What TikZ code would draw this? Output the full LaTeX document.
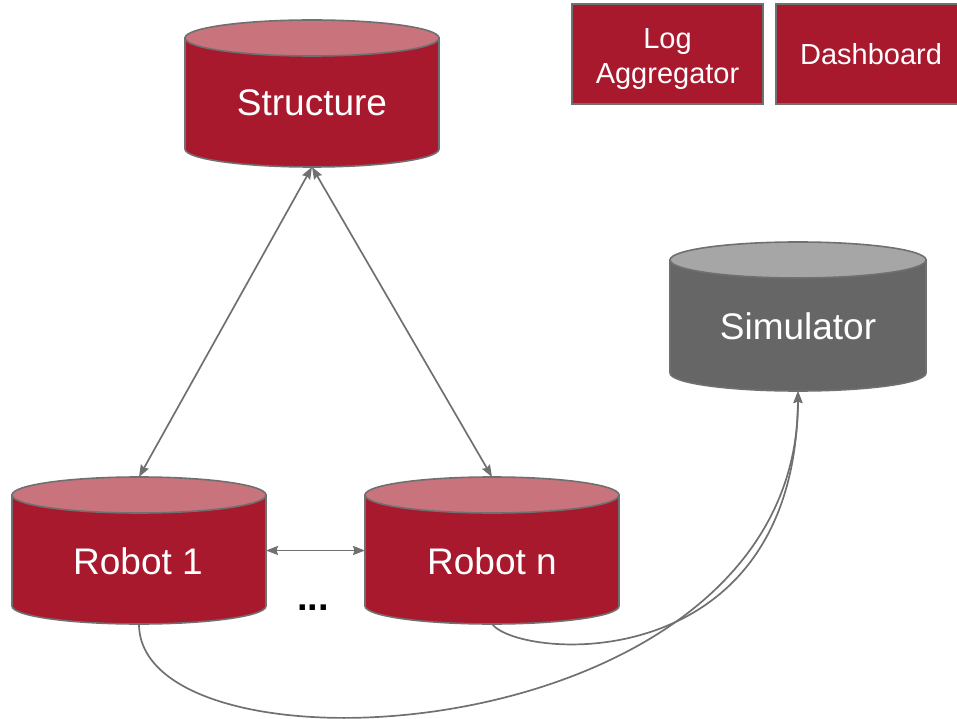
\documentclass[tikz,border=0pt]{standalone}
\usepackage{fontspec}
\setmainfont{Liberation Sans}
\usetikzlibrary{arrows.meta}
\definecolor{cred}{HTML}{A8192E}
\definecolor{credtop}{HTML}{C9737C}
\definecolor{cgray}{HTML}{666666}
\definecolor{cgraytop}{HTML}{A6A6A6}
\definecolor{lgray}{HTML}{707070}
\tikzset{
  cylnode/.style={rectangle, inner sep=0pt, outer sep=0pt, draw=none},
  cylline/.style={draw=lgray, line width=1.6pt},
  boxnode/.style={rectangle, draw=lgray, line width=1.6pt, fill=cred, inner sep=0pt, outer sep=0pt},
  bigtext/.style={text=white, font=\fontsize{37}{44}\selectfont, inner sep=0pt},
  midtext/.style={text=white, font=\fontsize{29}{35}\selectfont, inner sep=0pt, align=center},
  conn/.style={draw=lgray, line width=1.7pt},
  tip/.style={-{Stealth[length=12pt,width=9pt,inset=1.5pt]}},
  tips/.style={{Stealth[length=12pt,width=9pt,inset=1.5pt]}-{Stealth[length=12pt,width=9pt,inset=1.5pt]}}
}
% #1 name, #2 cx, #3 Y top, #4 Y bottom, #5 rx, #6 body colour, #7 top colour
\newcommand\dbcyl[7]{%
  \node[cylnode, minimum width={2*#5}, minimum height={#3-#4}] (#1) at (#2,{(#3+#4)/2}) {};
  \filldraw[cylline, fill=#6] (#2-#5,#3-18) -- (#2-#5,#4+18)
    arc[start angle=180, end angle=360, x radius=#5, y radius=18] -- (#2+#5,#3-18) -- cycle;
  \filldraw[cylline, fill=#7] (#2,#3-18) ellipse[x radius=#5, y radius=18];
}
\begin{document}
\begin{tikzpicture}[x=1pt, y=1pt]
\useasboundingbox (0,0) rectangle (957,718);
\clip (0,0) rectangle (957,718);

% cylinders
\dbcyl{struct}{312}{698}{551}{127}{cred}{credtop}
\dbcyl{sim}{798}{476}{327}{128}{cgray}{cgraytop}
\dbcyl{r1}{139}{241}{94}{127}{cred}{credtop}
\dbcyl{rn}{492}{241}{94}{127}{cred}{credtop}

\node[bigtext, anchor=base] (structlabel) at (312,602) {Structure};
\node[bigtext, anchor=base] (simlabel) at (798,378) {Simulator};
\node[bigtext, anchor=base] (r1label) at (138,144) {Robot 1};
\node[bigtext, anchor=base] (rnlabel) at (492,144) {Robot n};

% boxes
\node[boxnode, minimum width=191, minimum height=100] (log) at (667.5,664) {};
\node[midtext] (loglabel) at (667.5,659) {Log\\Aggregator};
\node[boxnode, minimum width=191, minimum height=100] (dash) at (871.5,664) {};
\node[midtext, anchor=base] (dashlabel) at (871,653) {Dashboard};

% dots
\node[anchor=base, inner sep=0pt, font=\fontsize{38}{44}\selectfont\bfseries] (dots) at (313,108) {...};

% connectors
\draw[conn, tips] (struct.south) -- (r1.north);
\draw[conn, tips] (struct.south) -- (rn.north);
\draw[conn, tips] (r1.east) -- (rn.west);
\draw[conn, tip] (r1.south) .. controls +(0,-163) and +(0,-362) .. (sim.south);
\draw[conn, tip] (rn.south) .. controls +(28,-36) and +(-3,-289) .. (sim.south);
\end{tikzpicture}
\end{document}
